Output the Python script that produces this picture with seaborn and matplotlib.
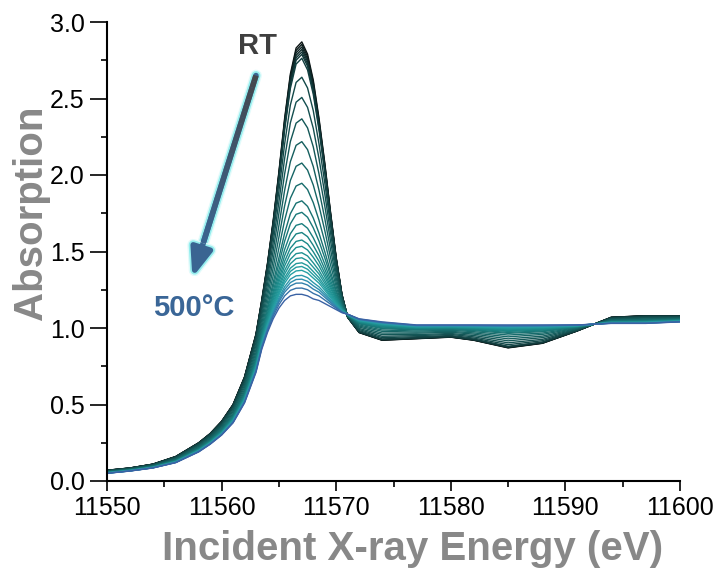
import numpy as np
import pandas as pd
import matplotlib
matplotlib.use("Agg")
import matplotlib.pyplot as plt
import seaborn as sns
from matplotlib.colors import LinearSegmentedColormap
from matplotlib.collections import LineCollection
from matplotlib.ticker import MultipleLocator
import matplotlib.patheffects as pe

# ---------------- data ----------------
energy = [11550, 11552, 11554, 11556, 11558, 11559, 11560, 11561, 11562, 11563,
          11563.5, 11564, 11564.5, 11565, 11565.5, 11566, 11566.5, 11567, 11567.5, 11568,
          11568.5, 11569, 11569.5, 11570, 11570.5, 11571, 11572, 11574, 11577, 11580,
          11582, 11585, 11588, 11591, 11594, 11597, 11600]

s01 = [0.07, 0.085, 0.11, 0.16, 0.25, 0.31, 0.39, 0.50, 0.68, 0.96, 1.18, 1.42, 1.70, 2.02, 2.37, 2.66, 2.83, 2.87, 2.79, 2.62, 2.37, 2.08, 1.76, 1.46, 1.22, 1.07, 0.97, 0.92, 0.93, 0.94, 0.92, 0.87, 0.90, 0.98, 1.07, 1.08, 1.08]
s02 = [0.07, 0.085, 0.11, 0.16, 0.249, 0.309, 0.389, 0.499, 0.678, 0.958, 1.177, 1.416, 1.694, 2.011, 2.358, 2.646, 2.814, 2.854, 2.774, 2.606, 2.358, 2.071, 1.754, 1.457, 1.219, 1.07, 0.971, 0.921, 0.931, 0.941, 0.921, 0.872, 0.901, 0.98, 1.07, 1.08, 1.08]
s03 = [0.07, 0.085, 0.11, 0.159, 0.249, 0.309, 0.388, 0.498, 0.677, 0.955, 1.174, 1.411, 1.687, 2.002, 2.346, 2.631, 2.798, 2.837, 2.758, 2.591, 2.346, 2.062, 1.748, 1.453, 1.218, 1.07, 0.972, 0.922, 0.932, 0.942, 0.922, 0.873, 0.902, 0.981, 1.069, 1.079, 1.079]
s04 = [0.069, 0.084, 0.109, 0.159, 0.248, 0.308, 0.387, 0.496, 0.675, 0.953, 1.170, 1.407, 1.681, 1.993, 2.334, 2.617, 2.782, 2.821, 2.743, 2.577, 2.334, 2.052, 1.741, 1.450, 1.216, 1.071, 0.973, 0.924, 0.933, 0.942, 0.923, 0.875, 0.904, 0.981, 1.069, 1.079, 1.079]
s05 = [0.069, 0.084, 0.109, 0.158, 0.248, 0.307, 0.386, 0.495, 0.673, 0.950, 1.167, 1.402, 1.674, 1.984, 2.322, 2.602, 2.766, 2.804, 2.727, 2.563, 2.322, 2.043, 1.735, 1.446, 1.215, 1.071, 0.974, 0.925, 0.934, 0.943, 0.924, 0.876, 0.905, 0.982, 1.068, 1.078, 1.078]
s06 = [0.069, 0.084, 0.109, 0.158, 0.247, 0.307, 0.386, 0.494, 0.672, 0.948, 1.164, 1.398, 1.668, 1.976, 2.311, 2.588, 2.750, 2.788, 2.711, 2.549, 2.311, 2.034, 1.729, 1.443, 1.214, 1.071, 0.975, 0.926, 0.935, 0.944, 0.925, 0.878, 0.906, 0.982, 1.068, 1.078, 1.078]
s07 = [0.069, 0.084, 0.108, 0.157, 0.246, 0.305, 0.384, 0.492, 0.669, 0.944, 1.159, 1.391, 1.658, 1.962, 2.293, 2.566, 2.725, 2.763, 2.687, 2.527, 2.293, 2.020, 1.720, 1.438, 1.212, 1.071, 0.976, 0.928, 0.936, 0.945, 0.927, 0.880, 0.908, 0.983, 1.067, 1.077, 1.077]
s08 = [0.067, 0.082, 0.107, 0.154, 0.242, 0.300, 0.377, 0.483, 0.656, 0.925, 1.135, 1.357, 1.610, 1.895, 2.203, 2.457, 2.605, 2.639, 2.569, 2.420, 2.203, 1.951, 1.673, 1.412, 1.203, 1.073, 0.983, 0.937, 0.943, 0.951, 0.934, 0.891, 0.917, 0.986, 1.064, 1.073, 1.074]
s09 = [0.066, 0.081, 0.105, 0.151, 0.237, 0.295, 0.370, 0.474, 0.643, 0.905, 1.110, 1.321, 1.559, 1.824, 2.108, 2.341, 2.476, 2.507, 2.442, 2.305, 2.108, 1.878, 1.624, 1.385, 1.194, 1.074, 0.990, 0.946, 0.950, 0.958, 0.942, 0.903, 0.926, 0.989, 1.061, 1.069, 1.071]
s10 = [0.064, 0.079, 0.102, 0.148, 0.232, 0.289, 0.363, 0.463, 0.628, 0.884, 1.082, 1.283, 1.505, 1.749, 2.007, 2.218, 2.339, 2.367, 2.308, 2.184, 2.007, 1.799, 1.571, 1.356, 1.183, 1.076, 0.997, 0.957, 0.957, 0.964, 0.951, 0.916, 0.937, 0.992, 1.058, 1.065, 1.068]
s11 = [0.062, 0.077, 0.100, 0.144, 0.226, 0.282, 0.355, 0.453, 0.613, 0.861, 1.054, 1.242, 1.447, 1.669, 1.900, 2.087, 2.194, 2.218, 2.166, 2.055, 1.900, 1.717, 1.515, 1.326, 1.173, 1.078, 1.006, 0.967, 0.966, 0.972, 0.960, 0.929, 0.947, 0.996, 1.054, 1.060, 1.064]
s12 = [0.060, 0.075, 0.098, 0.141, 0.221, 0.276, 0.347, 0.442, 0.598, 0.840, 1.026, 1.204, 1.393, 1.593, 1.799, 1.964, 2.057, 2.078, 2.032, 1.934, 1.799, 1.638, 1.462, 1.297, 1.162, 1.080, 1.013, 0.978, 0.973, 0.978, 0.968, 0.942, 0.958, 0.999, 1.051, 1.056, 1.061]
s13 = [0.059, 0.074, 0.096, 0.138, 0.216, 0.271, 0.340, 0.433, 0.585, 0.820, 1.001, 1.168, 1.342, 1.522, 1.704, 1.848, 1.928, 1.946, 1.905, 1.819, 1.704, 1.565, 1.413, 1.270, 1.153, 1.081, 1.020, 0.987, 0.980, 0.985, 0.976, 0.954, 0.967, 1.002, 1.048, 1.052, 1.058]
s14 = [0.057, 0.072, 0.094, 0.135, 0.212, 0.266, 0.333, 0.424, 0.573, 0.803, 0.978, 1.137, 1.297, 1.459, 1.620, 1.747, 1.816, 1.831, 1.795, 1.719, 1.620, 1.500, 1.369, 1.246, 1.144, 1.083, 1.027, 0.996, 0.987, 0.990, 0.983, 0.965, 0.976, 1.005, 1.045, 1.049, 1.055]
s15 = [0.057, 0.072, 0.093, 0.133, 0.210, 0.263, 0.329, 0.419, 0.565, 0.791, 0.964, 1.116, 1.268, 1.419, 1.567, 1.681, 1.743, 1.756, 1.724, 1.655, 1.567, 1.459, 1.342, 1.231, 1.139, 1.084, 1.031, 1.001, 0.991, 0.994, 0.988, 0.971, 0.981, 1.007, 1.043, 1.046, 1.053]
s16 = [0.056, 0.071, 0.092, 0.131, 0.207, 0.260, 0.325, 0.414, 0.558, 0.780, 0.950, 1.096, 1.239, 1.379, 1.513, 1.616, 1.671, 1.682, 1.652, 1.590, 1.513, 1.418, 1.314, 1.215, 1.134, 1.084, 1.035, 1.006, 0.995, 0.998, 0.992, 0.978, 0.986, 1.009, 1.041, 1.044, 1.051]
s17 = [0.055, 0.070, 0.091, 0.130, 0.205, 0.257, 0.322, 0.409, 0.552, 0.771, 0.938, 1.080, 1.217, 1.348, 1.472, 1.565, 1.615, 1.624, 1.597, 1.540, 1.472, 1.385, 1.292, 1.203, 1.129, 1.085, 1.038, 1.011, 0.998, 1.000, 0.996, 0.983, 0.991, 1.010, 1.040, 1.042, 1.050]
s18 = [0.054, 0.069, 0.090, 0.129, 0.203, 0.255, 0.319, 0.406, 0.547, 0.764, 0.929, 1.067, 1.198, 1.321, 1.436, 1.522, 1.566, 1.575, 1.550, 1.498, 1.436, 1.358, 1.273, 1.193, 1.126, 1.086, 1.041, 1.014, 1.001, 1.003, 0.999, 0.988, 0.994, 1.011, 1.039, 1.041, 1.049]
s19 = [0.054, 0.069, 0.090, 0.128, 0.201, 0.253, 0.317, 0.403, 0.542, 0.758, 0.921, 1.056, 1.182, 1.299, 1.406, 1.486, 1.526, 1.534, 1.510, 1.462, 1.406, 1.335, 1.258, 1.185, 1.123, 1.086, 1.043, 1.017, 1.003, 1.005, 1.001, 0.992, 0.997, 1.012, 1.038, 1.040, 1.048]
s20 = [0.053, 0.068, 0.089, 0.127, 0.200, 0.252, 0.315, 0.400, 0.538, 0.751, 0.913, 1.044, 1.166, 1.277, 1.376, 1.449, 1.486, 1.492, 1.471, 1.426, 1.376, 1.312, 1.242, 1.176, 1.120, 1.087, 1.045, 1.020, 1.005, 1.007, 1.004, 0.995, 1.000, 1.013, 1.037, 1.038, 1.047]
s21 = [0.053, 0.068, 0.089, 0.126, 0.199, 0.250, 0.313, 0.397, 0.535, 0.746, 0.906, 1.035, 1.153, 1.259, 1.353, 1.420, 1.454, 1.459, 1.439, 1.397, 1.353, 1.293, 1.230, 1.169, 1.117, 1.087, 1.047, 1.023, 1.007, 1.008, 1.006, 0.998, 1.003, 1.014, 1.036, 1.037, 1.046]
s22 = [0.053, 0.068, 0.088, 0.125, 0.198, 0.249, 0.311, 0.395, 0.531, 0.741, 0.900, 1.026, 1.140, 1.241, 1.329, 1.391, 1.421, 1.426, 1.408, 1.369, 1.329, 1.275, 1.218, 1.163, 1.115, 1.088, 1.049, 1.025, 1.009, 1.010, 1.008, 1.001, 1.005, 1.015, 1.035, 1.036, 1.045]
s23 = [0.052, 0.067, 0.088, 0.124, 0.197, 0.248, 0.310, 0.393, 0.529, 0.738, 0.895, 1.020, 1.130, 1.228, 1.311, 1.370, 1.397, 1.402, 1.384, 1.347, 1.311, 1.261, 1.208, 1.157, 1.113, 1.088, 1.050, 1.027, 1.010, 1.011, 1.009, 1.004, 1.007, 1.016, 1.034, 1.036, 1.044]
s24 = [0.052, 0.067, 0.087, 0.124, 0.196, 0.247, 0.309, 0.391, 0.526, 0.734, 0.890, 1.013, 1.121, 1.215, 1.293, 1.348, 1.373, 1.377, 1.360, 1.326, 1.293, 1.247, 1.199, 1.152, 1.111, 1.088, 1.051, 1.029, 1.011, 1.012, 1.011, 1.006, 1.009, 1.016, 1.034, 1.035, 1.044]
s25 = [0.052, 0.067, 0.087, 0.123, 0.195, 0.245, 0.307, 0.389, 0.523, 0.729, 0.884, 1.004, 1.108, 1.197, 1.269, 1.319, 1.341, 1.344, 1.329, 1.297, 1.269, 1.229, 1.187, 1.146, 1.109, 1.089, 1.053, 1.031, 1.013, 1.014, 1.013, 1.009, 1.011, 1.017, 1.033, 1.034, 1.043]
s26 = [0.051, 0.066, 0.087, 0.122, 0.194, 0.244, 0.305, 0.387, 0.520, 0.725, 0.879, 0.997, 1.098, 1.183, 1.251, 1.297, 1.317, 1.319, 1.305, 1.276, 1.251, 1.215, 1.177, 1.140, 1.107, 1.089, 1.055, 1.033, 1.015, 1.015, 1.014, 1.011, 1.013, 1.018, 1.032, 1.033, 1.042]
s27 = [0.051, 0.066, 0.086, 0.122, 0.193, 0.243, 0.304, 0.385, 0.518, 0.721, 0.874, 0.990, 1.089, 1.170, 1.234, 1.275, 1.293, 1.294, 1.281, 1.254, 1.234, 1.201, 1.168, 1.135, 1.105, 1.089, 1.056, 1.035, 1.016, 1.016, 1.016, 1.013, 1.015, 1.018, 1.032, 1.032, 1.042]
s28 = [0.051, 0.066, 0.086, 0.121, 0.192, 0.242, 0.302, 0.383, 0.514, 0.716, 0.868, 0.981, 1.076, 1.152, 1.210, 1.246, 1.260, 1.261, 1.250, 1.226, 1.210, 1.183, 1.156, 1.129, 1.103, 1.090, 1.058, 1.037, 1.018, 1.018, 1.018, 1.016, 1.017, 1.019, 1.031, 1.031, 1.041]
s29 = [0.05, 0.065, 0.085, 0.12, 0.19, 0.24, 0.30, 0.38, 0.51, 0.71, 0.86, 0.97, 1.06, 1.13, 1.18, 1.21, 1.22, 1.22, 1.21, 1.19, 1.18, 1.16, 1.14, 1.12, 1.10, 1.09, 1.06, 1.04, 1.02, 1.02, 1.02, 1.02, 1.02, 1.02, 1.03, 1.03, 1.04]

spectra = [s01, s02, s03, s04, s05, s06, s07, s08, s09, s10, s11, s12, s13, s14, s15,
           s16, s17, s18, s19, s20, s21, s22, s23, s24, s25, s26, s27, s28, s29]

x_ticks = [11550, 11560, 11570, 11580, 11590, 11600]
y_ticks = [0.0, 0.5, 1.0, 1.5, 2.0, 2.5, 3.0]

# ---------------- style ----------------
sns.set_theme(style="ticks")
plt.rcParams["font.family"] = ["Liberation Sans", "DejaVu Sans"]
plt.rcParams["axes.edgecolor"] = "black"
plt.rcParams["xtick.color"] = "black"
plt.rcParams["ytick.color"] = "black"

levels = ["T%02d" % k for k in range(len(spectra))]
rows = []
for lv, s in zip(levels, spectra):
    for e, a in zip(energy, s):
        rows.append((lv, e, a))
df = pd.DataFrame(rows, columns=["spectrum", "energy", "absorption"])

cmap = LinearSegmentedColormap.from_list(
    "xas", [(0.0, "#0b1414"), (0.2, "#123d3e"), (0.4, "#166767"),
            (0.6, "#1b8888"), (0.82, "#27a1a4"), (0.9, "#2f8db0"), (1.0, "#3a62a4")])
palette = {lv: cmap(k / (len(levels) - 1)) for k, lv in enumerate(levels)}

fig = plt.figure(figsize=(7.17, 5.77), dpi=100)
ax = fig.add_axes([107 / 717, 1 - 481 / 577, 573 / 717, 459 / 577])

sns.lineplot(data=df, x="energy", y="absorption", hue="spectrum", hue_order=levels,
             palette=palette, legend=False, sort=False, estimator=None,
             linewidth=1.0, ax=ax)

ax.set_xlim(11550, 11600)
ax.set_ylim(0, 3.0)
ax.set_xticks(x_ticks)
ax.set_yticks(y_ticks)
ax.set_xticklabels([str(t) for t in x_ticks])
ax.set_yticklabels(["%.1f" % t for t in y_ticks])
ax.xaxis.set_minor_locator(MultipleLocator(5))
ax.yaxis.set_minor_locator(MultipleLocator(0.25))
ax.tick_params(which="major", direction="out", length=7, width=1.2, labelsize=18, pad=4)
ax.tick_params(which="minor", direction="out", length=4.5, width=1.2)
ax.tick_params(axis="y", which="major", length=12)
for side in ["top", "right"]:
    ax.spines[side].set_visible(False)
for side in ["left", "bottom"]:
    ax.spines[side].set_linewidth(1.5)

ax.set_xlabel("Incident X-ray Energy (eV)", fontsize=29, fontweight="bold",
              color="#888888", va="center")
ax.xaxis.set_label_coords(0.534, -0.148)
ax.set_ylabel("Absorption", fontsize=29, fontweight="bold", color="#888888", va="center")
ax.yaxis.set_label_coords(-0.133, 0.584)

# ---------------- annotations ----------------
ax.text(11563.1, 2.84, "RT", color="#3f3f3f", fontsize=21, fontweight="bold",
        ha="center", va="center")
ax.text(11557.55, 1.13, "500°C", color="#3a6697", fontsize=21, fontweight="bold",
        ha="center", va="center")

start = (11563.0, 2.65)
end = (11557.45, 1.33)
glow = [pe.Stroke(linewidth=8.5, foreground="#e2fbfb"),
        pe.Stroke(linewidth=6.5, foreground="#95eeee"),
        pe.Normal()]
ax.annotate("", xy=end, xytext=start,
            arrowprops=dict(arrowstyle="-|>,head_length=1.7,head_width=0.65",
                            color="#3a6592", lw=4.0, shrinkA=0, shrinkB=0,
                            mutation_scale=10, path_effects=glow),
            zorder=6)
frac = np.linspace(0.0, 0.86, 30)
px = start[0] + (end[0] - start[0]) * frac
py = start[1] + (end[1] - start[1]) * frac
segs = [[(px[i], py[i]), (px[i + 1], py[i + 1])] for i in range(len(px) - 1)]
grad = LinearSegmentedColormap.from_list("arr", ["#44484d", "#3a6592"])
lc = LineCollection(segs, colors=[grad(i / (len(segs) - 1)) for i in range(len(segs))],
                    linewidths=4.0, capstyle="butt", zorder=7)
ax.add_collection(lc)

fig.savefig("out.png", dpi=100)
